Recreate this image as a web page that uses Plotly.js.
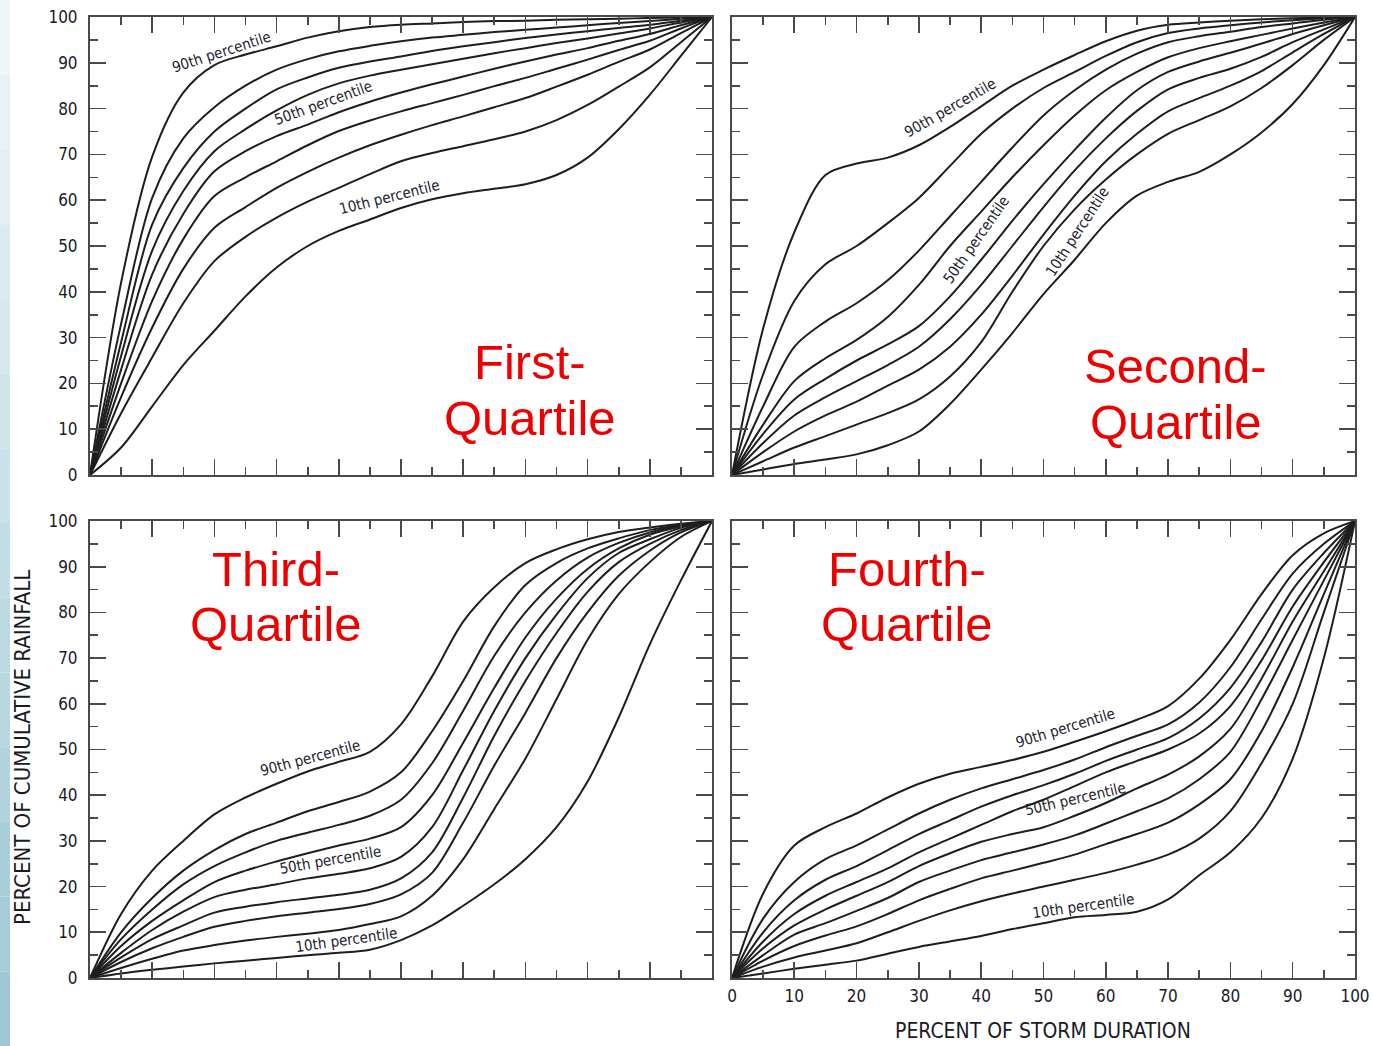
<!DOCTYPE html>
<html>
<head>
<meta charset="utf-8">
<script src="https://cdn.plot.ly/plotly-3.0.1.min.js"></script>
<style>
  html, body { margin: 0; padding: 0; background: #ffffff; }
  #chart { width: 1373px; height: 1046px; }
</style>
</head>
<body>
<div id="chart"></div>
<script>
// Percent of storm duration (x) shared by every curve
const duration = [0, 5, 10, 15, 20, 25, 30, 35, 40, 45, 50, 55, 60, 65, 70, 75, 80, 85, 90, 95, 100];
const percentiles = ['90th', '80th', '70th', '60th', '50th', '40th', '30th', '20th', '10th'];
const xTicks = [0, 10, 20, 30, 40, 50, 60, 70, 80, 90, 100];

// Cumulative rainfall (%) per percentile curve, 90th .. 10th
const firstQuartile = [
  [0, 42, 69.5, 83.5, 89.5, 91.8, 93.6, 95.5, 96.9, 97.8, 98.3, 98.6, 98.9, 99.1, 99.2, 99.4, 99.5, 99.6, 99.8, 99.9, 100],
  [0, 33, 60.5, 73.5, 80.3, 85, 88.5, 90.8, 92.5, 93.7, 94.7, 95.5, 96.1, 96.7, 97.2, 97.7, 98.2, 98.7, 99.1, 99.6, 100],
  [0, 29, 54.7, 67, 75, 80, 84.2, 86.8, 88.9, 90.3, 91.4, 92.6, 93.6, 94.5, 95.4, 96.2, 96.9, 97.6, 98.3, 99.2, 100],
  [0, 26, 49, 62, 70.7, 75.5, 79.6, 83, 85.5, 87.2, 88.5, 89.7, 90.9, 92.1, 93.2, 94.3, 95.3, 96.4, 97.5, 98.8, 100],
  [0, 23, 43.8, 57, 66.3, 70.7, 74, 76.5, 79.2, 81.5, 83.5, 85.3, 87, 88.7, 90.3, 91.8, 93.2, 94.8, 96.3, 98.2, 100],
  [0, 20, 38, 51.5, 60.9, 65, 68.5, 72, 75.1, 77.4, 79.4, 81.2, 83, 84.9, 86.7, 88.7, 90.7, 92.8, 94.8, 97.5, 100],
  [0, 17, 32.2, 45, 54, 58.5, 62.7, 66.2, 69.3, 72, 74.3, 76.4, 78.3, 80.3, 82.3, 84.8, 87.4, 90.2, 92.9, 96.5, 100],
  [0, 13.5, 25.7, 37.5, 46.7, 52, 56.2, 59.7, 62.7, 65.7, 68.5, 70.3, 71.8, 73.3, 75, 77.5, 80.8, 84.8, 89, 94.5, 100],
  [0, 6, 15, 24, 31.5, 39, 45.3, 50, 53.3, 55.8, 58.3, 60.2, 61.5, 62.5, 63.5, 65.5, 69.3, 75.5, 83, 91.5, 100]
];
const secondQuartile = [
  [0, 32, 53, 65.5, 68, 69.3, 72, 76, 80.5, 85, 88.5, 91.7, 94.7, 97, 98.3, 98.8, 99.2, 99.5, 99.7, 99.9, 100],
  [0, 22, 38, 46, 50, 55, 60.5, 67.5, 74.5, 80, 84.5, 88, 91.5, 94.5, 96.5, 97.5, 98.2, 98.8, 99.3, 99.7, 100],
  [0, 15, 28, 33.5, 37.5, 42.5, 49, 56.5, 64, 71.5, 78.5, 84, 88.5, 92, 94.5, 95.8, 96.8, 97.8, 98.6, 99.4, 100],
  [0, 11, 20.5, 25.5, 29.5, 34.5, 41.5, 50, 57.5, 65, 72, 78.5, 84, 88, 91.2, 93.2, 94.7, 96.1, 97.5, 98.8, 100],
  [0, 9, 16.5, 21, 25, 28.5, 32.5, 39, 47, 55.5, 63.5, 71, 78, 84, 88, 90.3, 92.2, 94.2, 96.3, 98.2, 100],
  [0, 7, 13, 17, 20.5, 24, 28, 34, 41.5, 50, 58.5, 66.5, 73.5, 79.5, 84.2, 86.7, 88.7, 91.3, 94.5, 97.3, 100],
  [0, 5, 9.5, 13, 16, 19.5, 23, 28, 35, 43.5, 52.5, 61, 68.5, 74.5, 79.4, 82.3, 85, 88.2, 92.3, 96.3, 100],
  [0, 3, 6, 8.5, 11, 13.5, 16.5, 21.5, 29, 40, 50, 58, 64.5, 70, 74.5, 77.5, 80.5, 84.5, 89.5, 95, 100],
  [0, 1.2, 2.4, 3.4, 4.5, 6.5, 9.5, 15.5, 23, 31, 39.5, 47, 55, 61, 64, 66.2, 70, 74.8, 81, 89.5, 100]
];
const thirdQuartile = [
  [0, 14, 23.5, 30, 35.8, 39.5, 42.5, 45.2, 47.3, 49.5, 55.5, 66, 78, 85.5, 90.8, 93.8, 96, 97.6, 98.6, 99.4, 100],
  [0, 10, 17.5, 23.5, 28, 31.5, 34, 36.5, 38.5, 40.8, 45, 54, 65, 77, 86, 90.8, 94, 96.2, 98, 99.2, 100],
  [0, 8.5, 15, 20.5, 24.5, 27.5, 30, 31.8, 33.5, 35.5, 39, 47, 58.5, 70.5, 80, 87, 92, 95.2, 97.5, 99, 100],
  [0, 7, 12.5, 17, 21, 23.5, 25.5, 27.3, 29, 30.5, 33, 40, 51.5, 63.5, 74.5, 83, 89.5, 94, 97, 98.8, 100],
  [0, 5.5, 10.5, 14.5, 17.7, 19.3, 20.5, 21.8, 22.8, 24, 26.5, 33, 45.5, 58.5, 70, 79.5, 87.5, 93, 96, 98.5, 100],
  [0, 4.5, 8.5, 11.5, 14.3, 15.6, 16.6, 17.4, 18.2, 19.3, 21.8, 27.5, 39.5, 53, 65, 75.5, 84.5, 91, 95, 98, 100],
  [0, 3.5, 6.5, 9, 11.2, 12.5, 13.5, 14.3, 15.1, 16.2, 18.3, 23, 34, 46.5, 58, 70, 80, 88, 93.5, 97.5, 100],
  [0, 2.2, 4.2, 6, 7.2, 8.2, 9, 9.7, 10.5, 11.8, 13.5, 18, 26, 37, 48, 61, 74, 84, 91, 96.5, 100],
  [0, 1, 1.8, 2.5, 3.2, 3.8, 4.4, 5, 5.5, 6.2, 8.3, 11.5, 15.8, 20.5, 26, 33, 43, 57, 73, 87, 100]
];
const fourthQuartile = [
  [0, 18.5, 29, 33, 36, 39.5, 42.5, 44.7, 46.2, 47.7, 49.5, 51.7, 54, 56.5, 59.5, 65.5, 74, 84, 92.5, 97.3, 100],
  [0, 13, 21, 26, 29, 32.5, 36, 39, 41.5, 43.5, 45.5, 47.8, 50.5, 53, 55.5, 60.3, 68, 78.5, 88.5, 95, 100],
  [0, 10, 17, 21.5, 24.5, 28, 31.5, 34.5, 37.5, 40, 42.2, 44.7, 47.5, 50, 52.5, 56.8, 63.5, 73.5, 85, 93, 100],
  [0, 8, 14, 18, 21, 24, 27.5, 30.5, 33.5, 36.5, 39, 42, 45, 47.5, 50, 53.5, 59.5, 69.5, 81.3, 91, 100],
  [0, 6.5, 11.5, 15, 18, 21, 24.5, 27.3, 29.8, 31.5, 33, 35.5, 38.3, 41.5, 44.5, 48.5, 54.5, 65.5, 78, 89, 100],
  [0, 5, 9.5, 12, 14.7, 17.5, 21, 23.5, 25.8, 27.5, 29.2, 31.2, 33.8, 36.5, 39.3, 43.5, 49.5, 61, 74, 87, 100],
  [0, 3.8, 7, 9.3, 11.3, 14, 17, 19.5, 21.8, 23.5, 25.2, 27, 29.3, 31.5, 34, 38, 43.5, 54, 68, 84, 100],
  [0, 2.5, 4.5, 6, 7.6, 10, 12.5, 14.8, 16.8, 18.5, 20, 21.5, 23, 24.8, 27, 30.5, 36.5, 47, 60, 80, 100],
  [0, 1, 2, 2.9, 3.8, 5.3, 6.8, 8, 9.2, 10.7, 12, 13.3, 13.8, 14.5, 17.2, 22.5, 27.5, 35, 48, 70, 100]
];

const panelData = [firstQuartile, secondQuartile, thirdQuartile, fourthQuartile];
const panelTitles = [['First-', 'Quartile'], ['Second-', 'Quartile'], ['Third-', 'Quartile'], ['Fourth-', 'Quartile']];

const W = 1373, H = 1046;
const colX = [[90 / W, 712 / W], [732 / W, 1355 / W]];
const rowY = [[1 - 475 / H, 1 - 17 / H], [1 - 978 / H, 1 - 521 / H]];

const narrow = '"Liberation Sans Narrow", "DejaVu Sans Condensed", "Roboto Condensed", "Arial Narrow", sans-serif';
const axisGray = '#4a4a4a';

const traces = [];
panelData.forEach((curves, p) => {
  const ax = p === 0 ? '' : String(p + 1);
  curves.forEach((vals, i) => {
    traces.push({
      type: 'scatter', mode: 'lines',
      x: duration, y: vals,
      xaxis: 'x' + ax, yaxis: 'y' + ax,
      name: percentiles[i] + ' percentile',
      line: { color: '#1e1e1e', width: 2, shape: 'spline', smoothing: 0.9 },
      hoverinfo: 'x+y+name', showlegend: false
    });
  });
});

function axisDef(domain, anchor, showLabels) {
  return {
    domain: domain, anchor: anchor, range: [0, 100],
    tickmode: 'array', tickvals: xTicks, ticktext: xTicks.map(String),
    ticks: 'inside', ticklen: 16, tickwidth: 1.6, tickcolor: axisGray,
    minor: { ticks: 'inside', ticklen: 8, tickwidth: 1.6, tickcolor: axisGray, dtick: 5, tick0: 0, showgrid: false },
    showline: true, linecolor: axisGray, linewidth: 2, mirror: 'ticks',
    showgrid: false, zeroline: false,
    showticklabels: showLabels,
    tickfont: { family: narrow, size: 17, color: '#1a1a26' },
    fixedrange: true
  };
}

const layout = {
  width: W, height: H,
  margin: { l: 0, r: 0, t: 0, b: 0 },
  paper_bgcolor: '#ffffff', plot_bgcolor: '#ffffff',
  showlegend: false,
  xaxis: axisDef(colX[0], 'y', false),
  yaxis: axisDef(rowY[0], 'x', true),
  xaxis2: axisDef(colX[1], 'y2', false),
  yaxis2: axisDef(rowY[0], 'x2', false),
  xaxis3: axisDef(colX[0], 'y3', false),
  yaxis3: axisDef(rowY[1], 'x3', true),
  xaxis4: axisDef(colX[1], 'y4', true),
  yaxis4: axisDef(rowY[1], 'x4', false),
  annotations: [],
  shapes: []
};
['yaxis', 'yaxis3'].forEach(k => { layout[k].ticklabelstandoff = 7; });
layout.xaxis4.ticklabelstandoff = 2;

// percentile labels (axis coords, rotation)
const curveLabels = [
  [[21.2, 92.4, -18, '90th percentile'], [37.5, 81.2, -20, '50th percentile'], [48.2, 60.8, -14, '10th percentile']],
  [[35.0, 80.1, -30, '90th percentile'], [39.2, 51.3, -55, '50th percentile'], [55.4, 53.1, -57, '10th percentile']],
  [[35.4, 48.1, -15, '90th percentile'], [38.7, 25.8, -10, '50th percentile'], [41.3, 8.3, -8, '10th percentile']],
  [[53.5, 54.7, -17, '90th percentile'], [55.1, 39.2, -13, '50th percentile'], [56.5, 15.8, -8, '10th percentile']]
];
curveLabels.forEach((labs, p) => {
  const ax = p === 0 ? '' : String(p + 1);
  labs.forEach(l => {
    layout.annotations.push({
      xref: 'x' + ax, yref: 'y' + ax, x: l[0], y: l[1], text: l[3], textangle: l[2],
      showarrow: false, font: { family: narrow, size: 15, color: '#22222e' }
    });
  });
});

// quartile titles: [x, y first line, y second line]
const titlePos = [[70.8, 24.7, 12.5], [71.2, 23.7, 11.5], [29.9, 89.6, 77.4], [28.1, 89.6, 77.4]];
const redFont = { family: 'Liberation Sans, Arial, sans-serif', size: 49, color: '#ee0000' };
panelTitles.forEach((t, p) => {
  const ax = p === 0 ? '' : String(p + 1);
  const pos = titlePos[p];
  layout.annotations.push({ xref: 'x' + ax, yref: 'y' + ax, x: pos[0], y: pos[1], text: t[0], showarrow: false,
    xanchor: 'center', yanchor: 'middle', font: redFont });
  layout.annotations.push({ xref: 'x' + ax, yref: 'y' + ax, x: pos[0], y: pos[2], text: t[1], showarrow: false,
    xanchor: 'center', yanchor: 'middle', font: redFont });
});

// axis titles
layout.annotations.push({ xref: 'paper', yref: 'paper', x: 22 / W, y: 1 - 748 / H, xanchor: 'center', yanchor: 'middle',
  text: 'PERCENT OF CUMULATIVE RAINFALL', textangle: -90, showarrow: false,
  font: { family: narrow, size: 22, color: '#1a1a26' } });
layout.annotations.push({ xref: 'paper', yref: 'paper', x: 1043 / W, y: 1 - 1031 / H, xanchor: 'center', yanchor: 'middle',
  text: 'PERCENT OF STORM DURATION', showarrow: false,
  font: { family: narrow, size: 21, color: '#1a1a26' } });

// decorative left gradient strip
const bands = 14;
for (let i = 0; i < bands; i++) {
  const t = i / (bands - 1);
  const r = Math.round(238 - t * 80), g = Math.round(246 - t * 46), b = Math.round(248 - t * 34);
  layout.shapes.push({ type: 'rect', xref: 'paper', yref: 'paper', x0: 0, x1: 10 / W,
    y0: 1 - (i + 1) / bands, y1: 1 - i / bands, line: { width: 0 }, fillcolor: `rgb(${r},${g},${b})`, layer: 'below' });
}

Plotly.newPlot('chart', traces, layout, { displayModeBar: false, staticPlot: true });
</script>
</body>
</html>
